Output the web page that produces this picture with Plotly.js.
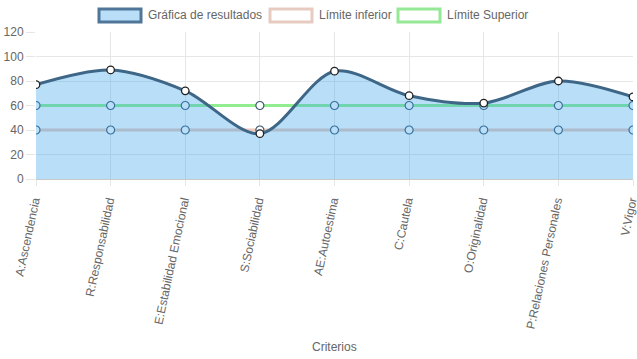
<!DOCTYPE html>
<html><head><meta charset="utf-8">
<script src="https://cdn.plot.ly/plotly-3.0.1.min.js"></script>
<style>html,body{margin:0;padding:0;background:#fff}#chart{width:637px;height:359px}</style>
</head><body><div id="chart"></div>
<script>
const categories = ["A:Ascendencia","R:Responsabilidad","E:Estabilidad Emocional","S:Sociabilidad","AE:Autoestima","C:Cautela","O:Originalidad","P:Relaciones Personales","V:Vigor"];
const resultados = [77, 89, 72, 37, 88, 68, 62, 80, 67];
const limiteInferior = [40, 40, 40, 40, 40, 40, 40, 40, 40];
const limiteSuperior = [60, 60, 60, 60, 60, 60, 60, 60, 60];
const yTicks = [0, 20, 40, 60, 80, 100, 120];
const seriesNames = ["Gráfica de resultados", "Límite inferior", "Límite Superior"];

const W = 637, H = 359;
const M = {l: 36, r: 4, t: 32, b: 180};
const PW = W - M.l - M.r, PH = H - M.t - M.b;
const px = x => (x - M.l) / PW;
const py = y => (H - M.b - y) / PH;

const FONT = "Liberation Sans, Arial, Helvetica, sans-serif";
const limMarker = {size: 8, color: "#fff", line: {color: "#3a5570", width: 1.2}};

const traces = [
  {x: categories, y: limiteInferior, name: seriesNames[1], type: "scatter", mode: "lines+markers",
   line: {color: "#ecc9bd", width: 3}, marker: limMarker, showlegend: false},
  {x: categories, y: limiteSuperior, name: seriesNames[2], type: "scatter", mode: "lines+markers",
   line: {color: "#90ee90", width: 3}, marker: limMarker, showlegend: false},
  {x: categories, y: resultados, name: seriesNames[0], type: "scatter", mode: "lines+markers",
   xaxis: "x2", yaxis: "y2",
   line: {color: "#3e6687", width: 3, shape: "spline", smoothing: 0.9},
   fill: "tozeroy", fillcolor: "rgba(54,162,235,0.35)",
   marker: {size: 7.5, color: "#fff", line: {color: "#222", width: 1.3}}, showlegend: false}
];

const legendItems = [
  {x0: 99, text: seriesNames[0], fill: "rgba(54,162,235,0.35)", border: "#4f7699"},
  {x0: 270, text: seriesNames[1], fill: "#fff", border: "#e8cbc0"},
  {x0: 398, text: seriesNames[2], fill: "#fff", border: "#95e895"}
];
const shapes = legendItems.map(it => ({type: "rect", xref: "paper", yref: "paper",
  x0: px(it.x0), x1: px(it.x0 + 42), y0: py(22), y1: py(9),
  fillcolor: it.fill, line: {color: it.border, width: 3}}));
const annotations = legendItems.map(it => ({xref: "paper", yref: "paper", x: px(it.x0 + 47), y: py(15.5),
  xanchor: "left", yanchor: "middle", showarrow: false, text: it.text,
  font: {family: FONT, size: 12, color: "#666"}}));
annotations.push({xref: "paper", yref: "paper", x: px(334), y: py(347), xanchor: "center", yanchor: "middle",
  showarrow: false, text: "Criterios", font: {family: FONT, size: 12, color: "#666"}});

const layout = {
  width: W, height: H, margin: M, paper_bgcolor: "#fff", plot_bgcolor: "#fff",
  font: {family: FONT, size: 12, color: "#666"}, showlegend: false,
  xaxis: {type: "category", range: [0, 8], showgrid: true, gridcolor: "#e6e6e6", gridwidth: 1,
    ticks: "outside", ticklen: 6, tickcolor: "#e6e6e6", tickangle: -78, zeroline: false,
    ticklabelshift: -2, ticklabelstandoff: 3,
    showline: false, tickfont: {family: FONT, size: 12, color: "#666"}, automargin: false, fixedrange: true},
  yaxis: {range: [0, 120], tickvals: yTicks, ticktext: yTicks.map(String), showgrid: true, gridcolor: "#e6e6e6",
    ticks: "outside", ticklen: 9, tickcolor: "#e6e6e6", zeroline: true, zerolinecolor: "#c8c8c8", zerolinewidth: 1,
    showline: false, tickfont: {family: FONT, size: 12, color: "#666"}, automargin: false, fixedrange: true},
  xaxis2: {type: "category", range: [0, 8], overlaying: "x", visible: false, fixedrange: true},
  yaxis2: {range: [0, 120], overlaying: "y", visible: false, fixedrange: true},
  shapes: shapes, annotations: annotations
};
Plotly.newPlot("chart", traces, layout, {displayModeBar: false, staticPlot: true});
</script></body></html>
